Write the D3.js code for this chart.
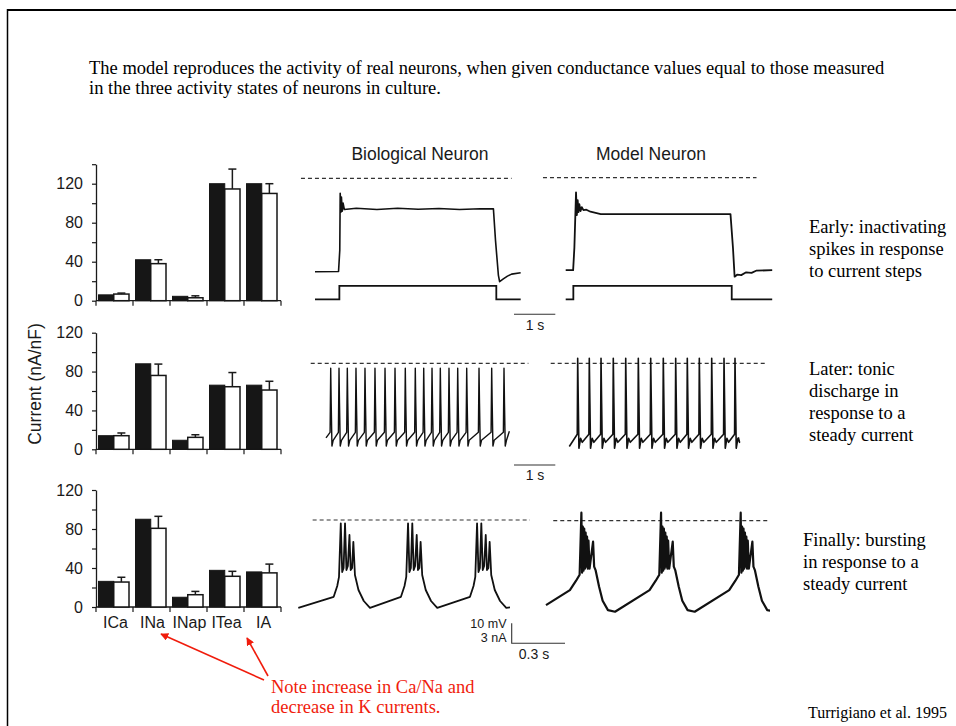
<!DOCTYPE html>
<html>
<head>
<meta charset="utf-8">
<script src="https://cdn.jsdelivr.net/npm/d3@7"></script>
<style>
  body { margin: 0; background: #fff; }
  svg { display: block; }
</style>
</head>
<body>
<svg id="fig" width="956" height="726"></svg>
<script>
// ---- bar chart data (current densities, nA/nF) ----
const currents = ['ICa', 'INa', 'INap', 'ITea', 'IA'];

const earlyMeasured = [6, 42, 4.5, 120, 120];
const earlyModel = [6.8, 38, 3, 114.6, 110];
const earlyModelErr = [7.8, 42, 5, 135, 120];

const laterMeasured = [14, 88, 9.3, 66, 66];
const laterModel = [14, 76, 12.3, 64.4, 61];
const laterModelErr = [16.8, 87.7, 15, 79, 70];

const finalMeasured = [26.3, 90, 10, 37.6, 36];
const finalModel = [25.6, 80.7, 12.6, 31.5, 35];
const finalModelErr = [30.5, 93, 16, 36.6, 44];

// ---- voltage traces: [time s, mV], current traces: [time s, nA] ----
const stepBio = [[0, -46.7], [0.57, -46.6], [0.6, -35.9], [0.61, -7.5], [0.63, -16.9], [0.64, -9.4],
  [0.66, -16.4], [0.68, -12.4], [0.71, -15.6], [1.0, -15.0], [1.5, -15.6], [2.0, -15.0], [2.5, -15.5],
  [3.0, -15.1], [3.5, -15.6], [4.0, -15.2], [4.32, -15.3], [4.37, -30.9], [4.44, -48.4], [4.47, -51.7],
  [4.56, -50.3], [4.66, -48.9], [4.76, -47.9], [4.98, -47.2]];
const stepBioCurrent = [[0, 0], [0.59, 0], [0.59, 2], [4.39, 2], [4.39, 0], [4.98, 0]];

const stepModel = [[0, -46.2], [0.18, -46.2], [0.21, -35], [0.25, -7.3], [0.27, -18.7], [0.29, -11.2],
  [0.31, -17.2], [0.33, -13.2], [0.36, -16.7], [0.39, -14.7], [0.43, -16.2], [0.5, -16], [0.6, -17],
  [0.85, -18.2], [3.99, -18.2], [4.05, -35], [4.09, -49.5], [4.15, -48.5], [4.25, -48.7], [4.37, -47.3],
  [4.5, -47.6], [4.61, -46.5], [5.0, -46.2]];
const stepModelCurrent = [[0, 0], [0.185, 0], [0.185, 2], [4.02, 2], [4.02, 0], [5.0, 0]];

const tonicBioSpikes = [0.114, 0.315, 0.516, 0.726, 0.944, 1.186, 1.429, 1.671, 1.92, 2.162, 2.366,
  2.567, 2.768, 2.978, 3.189, 3.407, 3.705, 4.012, 4.31];
const tonicBioShape = [[-0.015, -34.5], [0, -2.5], [0.012, -20], [0.03, -41.4], [0.06, -38.5]];
const tonicBioEnds = [[0, -37.3], [4.44, -34]];

const tonicModelSpikes = [0.203, 0.484, 0.768, 1.065, 1.366, 1.671, 1.971, 2.276, 2.576, 2.857,
  3.148, 3.448, 3.746, 4.012];
const tonicModelShape = [[-0.01, -35.5], [0, 2.5], [0.015, -20], [0.03, -42.5], [0.07, -37.5], [0.11, -39.5]];
const tonicModelEnds = [[0, -41.6], [4.092, -37]];

const burstBioOnsets = [0.24, 0.62, 1.01];
const burstBioShape = [[-0.04, -38.4], [-0.02, -33], [-0.01, -28.4], [0, -1.7], [0.008, -26], [0.016, -24],
  [0.024, -1.7], [0.032, -25], [0.04, -23], [0.049, -7.5], [0.056, -25], [0.064, -24], [0.071, -10.9],
  [0.08, -27.5], [0.1, -35], [0.13, -40.5], [0.165, -43.9]];
const burstBioEnds = [[0, -43.9], [1.196, -43.7]];

const burstModelOnsets = [0.2, 0.65, 1.1];
const burstModelShape = [[-0.065, -34.7], [-0.03, -30], [-0.01, -27], [0, 4], [0.004, -26], [0.008, -3],
  [0.012, -25], [0.016, -4], [0.02, -24], [0.024, -6], [0.028, -23], [0.032, -8], [0.036, -24],
  [0.04, -10], [0.046, -24], [0.066, -10.5], [0.072, -23], [0.08, -24.7], [0.1, -33], [0.12, -40],
  [0.15, -44.7], [0.19, -45.5]];
const burstModelEnds = [[0, -42.2], [1.4, -45]];

// ---- texts ----
const titleLines = [
  'The model reproduces the activity of real neurons, when given conductance values equal to those measured',
  'in the three activity states of neurons in culture.'
];
const stateLabels = [
  ['Early: inactivating', 'spikes in response', 'to current steps'],
  ['Later: tonic', 'discharge in', 'response to a', 'steady current'],
  ['Finally: bursting', 'in response to a', 'steady current']
];
const noteLines = ['Note increase in Ca/Na and', 'decrease in K currents.'];

const SANS = '"Liberation Sans", Arial, Helvetica, sans-serif';
const SERIF = '"Liberation Serif", "Times New Roman", serif';
const INK = '#1a1a1a';

const svg = d3.select('#fig');

// page frame
svg.append('line').attr('x1', 7).attr('x2', 956).attr('y1', 10).attr('y2', 10)
  .attr('stroke', '#000').attr('stroke-width', 2);
svg.append('line').attr('x1', 7.5).attr('x2', 7.5).attr('y1', 9).attr('y2', 726)
  .attr('stroke', '#000').attr('stroke-width', 1.5);

// heading
svg.append('g').selectAll('text').data(titleLines).enter().append('text')
  .attr('x', 89).attr('y', (d, i) => 74 + i * 20)
  .attr('font-family', SERIF).attr('font-size', 18.5).attr('fill', '#000')
  .text(d => d);

// ---- bar panels ----
const barPanels = [
  { measured: earlyMeasured, model: earlyModel, err: earlyModelErr, yMax: 140, top: 164.2, base: 300.7 },
  { measured: laterMeasured, model: laterModel, err: laterModelErr, yMax: 120, top: 332.7, base: 449.3 },
  { measured: finalMeasured, model: finalModel, err: finalModelErr, yMax: 120, top: 490, base: 607 }
];

const x = d3.scaleBand().domain(currents).range([96, 281]);
const sub = d3.scaleBand().domain(['measured', 'model']).range([2.5, 33]);

barPanels.forEach((p, pi) => {
  const y = d3.scaleLinear().domain([0, p.yMax]).range([p.base, p.top]);
  const g = svg.append('g');

  const axis = d3.axisLeft(y)
    .tickValues(d3.range(0, p.yMax + 1, 20))
    .tickSize(4).tickSizeOuter(0).tickPadding(9)
    .tickFormat(d => d % 40 === 0 ? d : '');
  const ag = g.append('g').attr('transform', 'translate(96,0)').call(axis);
  ag.select('.domain').attr('stroke', INK).attr('stroke-width', 1.3);
  ag.selectAll('.tick line').attr('stroke', INK).attr('stroke-width', 1.2);
  ag.selectAll('.tick text').attr('font-family', SANS).attr('font-size', 16).attr('fill', INK);

  // baseline with group separators
  g.append('line').attr('x1', 96).attr('x2', 281).attr('y1', p.base).attr('y2', p.base)
    .attr('stroke', INK).attr('stroke-width', 1.3);
  const seps = currents.map(c => x(c)).concat([x.range()[1]]);
  g.selectAll('line.sep').data(seps).enter().append('line')
    .attr('x1', d => d).attr('x2', d => d).attr('y1', p.base).attr('y2', p.base + 5)
    .attr('stroke', INK).attr('stroke-width', 1.2);

  const rows = currents.map((c, i) => ({ c, m: p.measured[i], v: p.model[i], e: p.err[i] }));

  g.selectAll('rect.meas').data(rows).enter().append('rect')
    .attr('x', d => x(d.c) + sub('measured'))
    .attr('y', d => y(d.m))
    .attr('width', sub.bandwidth())
    .attr('height', d => y(0) - y(d.m))
    .attr('fill', '#161616').attr('stroke', '#161616').attr('stroke-width', 1);

  g.selectAll('rect.mod').data(rows).enter().append('rect')
    .attr('x', d => x(d.c) + sub('model'))
    .attr('y', d => y(d.v))
    .attr('width', sub.bandwidth())
    .attr('height', d => y(0) - y(d.v))
    .attr('fill', '#fff').attr('stroke', '#161616').attr('stroke-width', 1.5);

  const cx = d => x(d.c) + sub('model') + sub.bandwidth() / 2;
  g.selectAll('line.err').data(rows).enter().append('line')
    .attr('x1', cx).attr('x2', cx).attr('y1', d => y(d.v)).attr('y2', d => y(d.e))
    .attr('stroke', INK).attr('stroke-width', 1.5);
  g.selectAll('line.cap').data(rows).enter().append('line')
    .attr('x1', d => cx(d) - 4).attr('x2', d => cx(d) + 4).attr('y1', d => y(d.e)).attr('y2', d => y(d.e))
    .attr('stroke', INK).attr('stroke-width', 1.5);

  if (pi === barPanels.length - 1) {
    g.selectAll('text.cat').data(currents).enter().append('text')
      .attr('x', d => x(d) + x.bandwidth() / 2 + 1).attr('y', p.base + 21)
      .attr('text-anchor', 'middle')
      .attr('font-family', SANS).attr('font-size', 16).attr('fill', INK)
      .text(d => d);
  }
});

svg.append('text')
  .attr('transform', 'translate(41,384) rotate(-90)')
  .attr('text-anchor', 'middle')
  .attr('font-family', SANS).attr('font-size', 17.5).attr('fill', INK)
  .text('Current (nA/nF)');

// ---- trace panels ----
function spikeTrain(ends, times, shape) {
  const pts = [ends[0]];
  times.forEach(t => shape.forEach(([dt, v]) => pts.push([t + dt, v])));
  pts.push(ends[1]);
  return pts;
}

const tracePanels = [
  { x0: 315, y0: 178.3, secPx: 41.3, dash: [-0.34, 4.76], v: stepBio, i: stepBioCurrent, iy0: 299.3, w: 1.6 },
  { x0: 565.7, y0: 177.7, secPx: 41.3, dash: [-0.55, 4.62], v: stepModel, i: stepModelCurrent, iy0: 299.3, w: 1.8 },
  { x0: 326, y0: 363.3, secPx: 41.3, dash: [-0.37, 4.9], v: spikeTrain(tonicBioEnds, tonicBioSpikes, tonicBioShape), w: 1.4 },
  { x0: 569.3, y0: 363.3, secPx: 41.3, dash: [-0.45, 4.74], v: spikeTrain(tonicModelEnds, tonicModelSpikes, tonicModelShape), w: 1.6 },
  { x0: 298.3, y0: 520, secPx: 177, dash: [0.081, 1.309], v: spikeTrain(burstBioEnds, burstBioOnsets, burstBioShape), w: 1.8, clip: 1.196 },
  { x0: 546, y0: 520.7, secPx: 177, dash: [0.041, 1.266], v: spikeTrain(burstModelEnds, burstModelOnsets, burstModelShape), w: 2.2, clip: 1.266 }
];

const mvPx = 2, nAPx = 6.67;
const defs = svg.append('defs');

tracePanels.forEach((p, k) => {
  const tx = d3.scaleLinear().domain([0, 1]).range([p.x0, p.x0 + p.secPx]);
  const ty = d3.scaleLinear().domain([0, -10]).range([p.y0, p.y0 + 10 * mvPx]);
  const g = svg.append('g');

  g.append('line')
    .attr('x1', tx(p.dash[0])).attr('x2', tx(p.dash[1]))
    .attr('y1', p.y0).attr('y2', p.y0)
    .attr('stroke', '#333').attr('stroke-width', 1.2).attr('stroke-dasharray', '4,3');

  const line = d3.line().x(d => tx(d[0])).y(d => ty(d[1]));
  const path = g.append('path').datum(p.v)
    .attr('d', line)
    .attr('fill', 'none').attr('stroke', '#111').attr('stroke-width', p.w)
    .attr('stroke-linejoin', 'round');

  if (p.clip !== undefined) {
    defs.append('clipPath').attr('id', 'clip' + k).append('rect')
      .attr('x', tx(0) - 2).attr('y', 0).attr('width', tx(p.clip) - tx(0) + 2).attr('height', 726);
    path.attr('clip-path', `url(#clip${k})`);
  }

  if (p.i) {
    const iy = d3.scaleLinear().domain([0, 1]).range([p.iy0, p.iy0 - nAPx]);
    g.append('path').datum(p.i)
      .attr('d', d3.line().x(d => tx(d[0])).y(d => iy(d[1])))
      .attr('fill', 'none').attr('stroke', '#111').attr('stroke-width', 1.8);
  }
});

// panel titles
svg.append('g').selectAll('text').data([['Biological Neuron', 420], ['Model Neuron', 651]]).enter()
  .append('text')
  .attr('x', d => d[1]).attr('y', 160).attr('text-anchor', 'middle')
  .attr('font-family', SANS).attr('font-size', 17.5).attr('fill', INK)
  .text(d => d[0]);

// time scale bars
[[314.3, 330], [465, 479.5]].forEach(([ly, ty]) => {
  svg.append('line').attr('x1', 514).attr('x2', 555.3).attr('y1', ly).attr('y2', ly)
    .attr('stroke', '#333').attr('stroke-width', 1.1);
  svg.append('text').attr('x', 535).attr('y', ty).attr('text-anchor', 'middle')
    .attr('font-family', SANS).attr('font-size', 14).attr('fill', INK).text('1 s');
});

// mV / nA / s scale bar (burst row)
svg.append('path')
  .attr('d', `M511.7,623.3 V643.3 H565`)
  .attr('fill', 'none').attr('stroke', '#333').attr('stroke-width', 1.1);
svg.append('g').selectAll('text').data([['10 mV', 628], ['3 nA', 641.5]]).enter().append('text')
  .attr('x', 506.5).attr('y', d => d[1]).attr('text-anchor', 'end')
  .attr('font-family', SANS).attr('font-size', 12.5).attr('fill', INK).text(d => d[0]);
svg.append('text').attr('x', 534).attr('y', 658.5).attr('text-anchor', 'middle')
  .attr('font-family', SANS).attr('font-size', 14).attr('fill', INK).text('0.3 s');

// state descriptions
const labelPos = [[809, 233], [809, 375], [803, 546]];
stateLabels.forEach((lines, i) => {
  svg.append('g').selectAll('text').data(lines).enter().append('text')
    .attr('x', labelPos[i][0]).attr('y', (d, j) => labelPos[i][1] + j * 22)
    .attr('font-family', SERIF).attr('font-size', 18.5).attr('fill', '#000')
    .text(d => d);
});

// red note with arrows
defs.append('marker').attr('id', 'arrowhead')
  .attr('viewBox', '0 0 10 10').attr('refX', 9).attr('refY', 5)
  .attr('markerWidth', 8).attr('markerHeight', 8).attr('markerUnits', 'userSpaceOnUse')
  .attr('orient', 'auto')
  .append('path').attr('d', 'M0,0 L10,5 L0,10 z').attr('fill', '#f01c0c');

[[264, 680, 161, 634], [268, 676, 247, 638]].forEach(([x1, y1, x2, y2]) => {
  svg.append('line').attr('x1', x1).attr('y1', y1).attr('x2', x2).attr('y2', y2)
    .attr('stroke', '#f01c0c').attr('stroke-width', 1.6).attr('marker-end', 'url(#arrowhead)');
});

svg.append('g').selectAll('text').data(noteLines).enter().append('text')
  .attr('x', 271).attr('y', (d, i) => 693 + i * 20)
  .attr('font-family', SERIF).attr('font-size', 18.5).attr('fill', '#f01c0c')
  .text(d => d);

svg.append('text').attr('x', 808).attr('y', 718)
  .attr('font-family', SERIF).attr('font-size', 16).attr('fill', '#000')
  .text('Turrigiano et al. 1995');
</script>
</body>
</html>
